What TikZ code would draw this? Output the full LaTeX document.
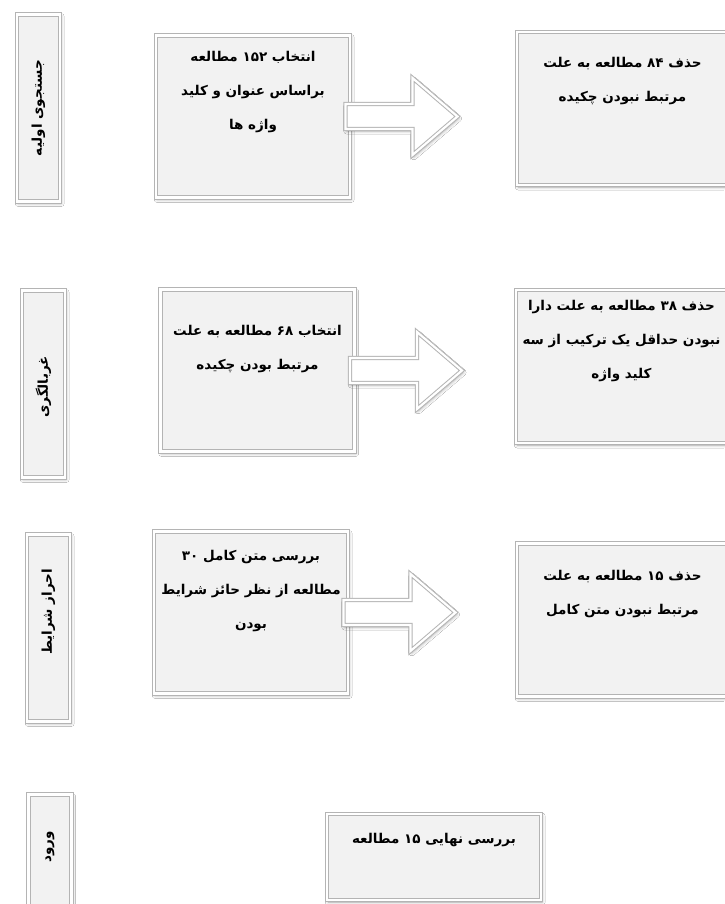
\documentclass[tikz,border=0pt]{standalone}
\usepackage{fontspec}
\usetikzlibrary{positioning,shadows.blur}
\TeXXeTstate=1
\newfontfamily\fafont[Script=Arabic]{DejaVu Sans}
\definecolor{boxfill}{HTML}{F2F2F2}
\definecolor{edgegray}{HTML}{B4B4B4}
\tikzset{
  bevel/.style={fill=boxfill, draw=edgegray, line width=1pt, double=white, double distance=2.2pt,
    blur shadow={shadow xshift=1.2pt, shadow yshift=-2pt, shadow blur radius=3pt, shadow opacity=35}},
  stagebox/.style={bevel, minimum width=43pt, minimum height=187pt, inner sep=0pt},
  studybox/.style={bevel, minimum width=194pt, minimum height=162pt, inner sep=0pt},
  dropbox/.style={bevel, minimum width=211pt, minimum height=153pt, inner sep=0pt},
  finalbox/.style={bevel, minimum width=214pt, minimum height=86pt, inner sep=0pt},
  blockarrow/.style={bevel, fill=white},
  fatxt/.style={font=\fafont\bfseries\fontsize{13.5}{34}\selectfont, align=center, inner sep=0pt},
  stagetxt/.style={fatxt, rotate=90}
}

\begin{document}
\begin{tikzpicture}[x=1pt, y=-1pt]
      \useasboundingbox (0,0) rectangle (724,904);
      \fill[white] (0,0) rectangle (724,904);

      \node (l1) [stagebox] at (38.5,108) {};
      \node (l2) [stagebox] at (43.5,384) {};
      \node (l3) [stagebox] at (48.5,628) {};
      \node (l4) [stagebox] at (50,888) {};
      \node (l1t) [stagetxt] at (l1.center) {\beginR جستجوی اولیه\endR};
      \node (l2t) [stagetxt] at ([yshift=-3pt]l2.center) {\beginR غربالگری\endR};
      \node (l3t) [stagetxt] at ([yshift=16pt]l3.center) {\beginR احراز شرایط\endR};
      \node (l4t) [stagetxt] at ([yshift=41pt]l4.center) {\beginR ورود\endR};

      \node (a1) [studybox] at (253,116.5) {};
      \node (a2) [studybox] at (257.5,370.5) {};
      \node (a3) [studybox] at (251,612.5) {};

      \node (b1) [dropbox] at (622.5,108.5) {};
      \node (b2) [dropbox] at (621.5,366.5) {};
      \node (b3) [dropbox] at (622.5,620) {};

      \node (fin) [finalbox] at (434,857) {};

      \draw[blockarrow] ([xshift=-5pt]a1.east) ++(0,-12.5) -- ++(67,0) -- ++(0,-26) -- ++(45,38.5) -- ++(-45,38.5) -- ++(0,-26) -- ++(-67,0) -- cycle;
      \draw[blockarrow] ([xshift=-5pt]a2.east) ++(0,-12.5) -- ++(67,0) -- ++(0,-26) -- ++(45,38.5) -- ++(-45,38.5) -- ++(0,-26) -- ++(-67,0) -- cycle;
      \draw[blockarrow] ([xshift=-5pt]a3.east) ++(0,-12.5) -- ++(67,0) -- ++(0,-26) -- ++(45,38.5) -- ++(-45,38.5) -- ++(0,-26) -- ++(-67,0) -- cycle;

      \node (a1t) [fatxt, below=16pt of a1.north] {\beginR انتخاب ۱۵۲ مطالعه\endR\\\beginR براساس عنوان و کلید\endR\\\beginR واژه ها\endR};
      \node (a2t) [fatxt, below=36pt of a2.north] {\beginR انتخاب ۶۸ مطالعه به علت\endR\\\beginR مرتبط بودن چکیده\endR};
      \node (a3t) [fatxt, below=19pt of a3.north] {\beginR بررسی متن کامل ۳۰\endR\\\beginR مطالعه از نظر حائز شرایط\endR\\\beginR بودن\endR};
      \node (b1t) [fatxt, below=26pt of b1.north] {\beginR حذف ۸۴ مطالعه به علت\endR\\\beginR مرتبط نبودن چکیده\endR};
      \node (b2t) [fatxt, below=11pt of b2.north] {\beginR حذف ۳۸ مطالعه به علت دارا\endR\\\beginR نبودن حداقل یک ترکیب از سه\endR\\\beginR کلید واژه\endR};
      \node (b3t) [fatxt, below=27pt of b3.north] {\beginR حذف ۱۵ مطالعه به علت\endR\\\beginR مرتبط نبودن متن کامل\endR};
      \node (fint) [fatxt, below=20pt of fin.north] {\beginR بررسی نهایی ۱۵ مطالعه\endR};
\end{tikzpicture}
\end{document}
